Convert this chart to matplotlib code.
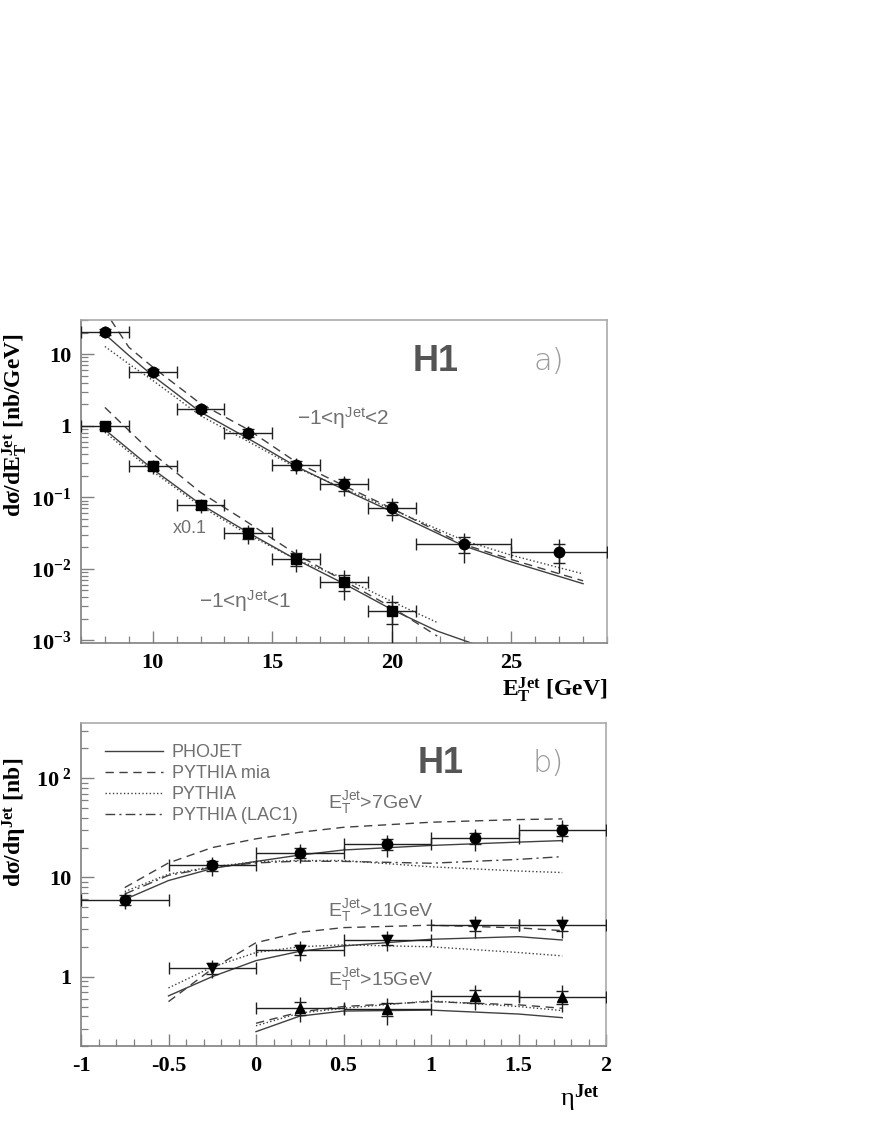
import numpy as np
import matplotlib
matplotlib.use("Agg")
import matplotlib.pyplot as plt
from matplotlib.ticker import FixedLocator, FixedFormatter, LogLocator, NullFormatter, MultipleLocator

plt.rcParams['mathtext.fontset'] = 'custom'
plt.rcParams['mathtext.rm'] = 'Liberation Serif'
plt.rcParams['mathtext.bf'] = 'Liberation Serif:bold'
plt.rcParams['mathtext.it'] = 'Liberation Serif:italic'

# ---------------- data: panel a ----------------
et_c = [8, 10, 12, 14, 16, 18, 20, 23, 27]
et_lo = [7, 9, 11, 13, 15, 17, 19, 21, 25]
et_hi = [9, 11, 13, 15, 17, 19, 21, 25, 29]
a_all = [20.7, 5.6, 1.71, 0.80, 0.28, 0.151, 0.0713, 0.0221, 0.0173]
a_all_stat = [0.10, 0.10, 0.10, 0.12, 0.15, 0.18, 0.20, 0.25, 0.30]
a_all_tot = [0.18, 0.18, 0.20, 0.22, 0.25, 0.32, 0.35, 0.45, 0.50]

et_c2 = [8, 10, 12, 14, 16, 18, 20]
et_lo2 = [7, 9, 11, 13, 15, 17, 19]
et_hi2 = [9, 11, 13, 15, 17, 19, 21]
a_cen = [1.0, 0.273, 0.078, 0.0316, 0.0139, 0.0066, 0.00259]
a_cen_stat = [0.10, 0.12, 0.12, 0.18, 0.20, 0.25, 0.35]
a_cen_tot = [0.18, 0.22, 0.22, 0.30, 0.35, 0.45, 0.65]

# model curves, panel a (upper: -1<eta<2)
ca_x = [8, 9, 10, 12, 14, 16, 18, 20, 23, 25, 28]
ca_phojet = [19.0, 9.6, 5.0, 1.55, 0.66, 0.27, 0.128, 0.063, 0.021, 0.0125, 0.0062]
ca_mia_x = [8.25, 9, 10, 12, 14, 16, 18, 20, 23, 25, 28]
ca_mia = [30.0, 12.5, 6.6, 2.03, 0.88, 0.31, 0.145, 0.070, 0.022, 0.0135, 0.0068]
ca_pythia = [12.8, 7.3, 4.3, 1.38, 0.60, 0.26, 0.132, 0.068, 0.025, 0.0155, 0.0085]
# model curves, panel a (lower: -1<eta<1, x0.1)
cb_x = [8, 10, 12, 14, 16, 18, 20, 21.9, 23.4]
cb_phojet = [0.88, 0.247, 0.080, 0.032, 0.0135, 0.0062, 0.00270, 0.00135, 0.0009]
cb_x2 = [8, 10, 12, 14, 16, 18, 20, 21.9]
cb_mia = [1.8, 0.41, 0.117, 0.044, 0.016, 0.0068, 0.0029, 0.00115]
cb_pythia = [0.81, 0.23, 0.075, 0.030, 0.0135, 0.0074, 0.0035, 0.00178]

# ---------------- data: panel b ----------------
eta_c = [-0.75, -0.25, 0.25, 0.75, 1.25, 1.75]
b7 = [5.94, 13.2, 17.8, 21.6, 24.8, 30.1]
b7_stat = [0.12, 0.12, 0.12, 0.13, 0.13, 0.13]
b7_tot = [0.20, 0.22, 0.22, 0.25, 0.25, 0.25]
eta_c11 = [-0.25, 0.25, 0.75, 1.25, 1.75]
b11 = [1.22, 1.86, 2.35, 3.30, 3.30]
b11_stat = [0.12, 0.12, 0.12, 0.13, 0.13]
b11_tot = [0.20, 0.22, 0.22, 0.25, 0.25]
eta_c15 = [0.25, 0.75, 1.25, 1.75]
b15 = [0.487, 0.469, 0.64, 0.63]
b15_stat = [0.15, 0.15, 0.15, 0.15]
b15_tot = [0.28, 0.30, 0.28, 0.30]

# model curves panel b
m7_x = [-0.75, -0.5, -0.25, 0.0, 0.25, 0.5, 1.0, 1.5, 1.75]
m7_phojet = [6.0, 9.3, 12.3, 14.5, 16.8, 18.9, 21.0, 22.7, 23.5]
m7_mia = [7.9, 14.0, 20.0, 24.5, 28.5, 32.0, 36.0, 38.3, 38.9]
m7_pythia = [7.2, 10.8, 12.8, 14.4, 14.8, 14.8, 12.8, 11.6, 11.2]
m7_lac1 = [6.8, 10.5, 12.6, 14.0, 14.6, 14.5, 13.9, 15.2, 16.2]

m11_x = [-0.5, -0.25, 0.0, 0.25, 0.5, 1.0, 1.5, 1.75]
m11_phojet = [0.64, 1.0, 1.45, 1.80, 2.04, 2.38, 2.53, 2.34]
m11_mia = [0.56, 1.2, 2.2, 2.8, 3.12, 3.30, 3.10, 2.91]
m11_pythia = [0.77, 1.25, 1.75, 2.0, 2.09, 2.0, 1.75, 1.62]

m15_x = [0.0, 0.25, 0.5, 1.0, 1.5, 1.75]
m15_phojet = [0.279, 0.40, 0.45, 0.46, 0.42, 0.386]
m15_mia = [0.339, 0.44, 0.50, 0.56, 0.52, 0.48]
m15_pythia = [0.32, 0.43, 0.48, 0.57, 0.50, 0.455]

eta_lo_all = [-1.0, -0.5, 0.0, 0.5, 1.0, 1.5]
eta_hi_all = [-0.5, 0.0, 0.5, 1.0, 1.5, 2.0]

# ---------------- styling ----------------
GRAY = '#808080'
TXT = '#707070'
LC = '#404040'
SERIF = 'Liberation Serif'
SANS = 'Liberation Sans'

fig = plt.figure(figsize=(8.72, 11.28), dpi=100)
axa = fig.add_axes([81/872, 1-643/1128, 526/872, 323/1128])
axb = fig.add_axes([81/872, 1-1046/1128, 525/872, 323/1128])


def style_axes(ax):
    for s in ax.spines.values():
        s.set_color(GRAY)
        s.set_linewidth(1.2)
    ax.spines['top'].set_color('#aaaaaa')
    ax.spines['right'].set_color('#aaaaaa')
    ax.tick_params(which='both', direction='in', color=GRAY, top=False, right=False)
    ax.tick_params(which='major', length=9, width=1.0, labelsize=16, pad=7)
    ax.tick_params(which='minor', length=5, width=0.9)
    for lab in ax.get_xticklabels() + ax.get_yticklabels():
        lab.set_fontfamily(SERIF)
        lab.set_fontweight('bold')


def draw_points(ax, x, lo, hi, y, stat, tot, marker, ms):
    x = np.array(x); y = np.array(y)
    xerr = [x - np.array(lo), np.array(hi) - x]
    st = np.array(stat); tt = np.array(tot)
    ax.errorbar(x, y, yerr=[y * tt, y * tt], fmt='none', ecolor='#202020', elinewidth=1.0, capsize=0, zorder=4)
    ax.errorbar(x, y, xerr=xerr, yerr=[y * st, y * st], fmt='none', ecolor='#202020', elinewidth=1.0,
                capsize=4, capthick=1.0, zorder=4)
    ax.plot(x, y, linestyle='none', marker=marker, ms=ms, color='black', zorder=5)


# ---------------- panel a ----------------
axa.set_yscale('log')
axa.set_xlim(7, 29)
axa.set_ylim(0.00092, 30)

draw_points(axa, et_c, et_lo, et_hi, a_all, a_all_stat, a_all_tot, 'o', 7.5)
draw_points(axa, et_c2, et_lo2, et_hi2, a_cen, a_cen_stat, a_cen_tot, 's', 7)

axa.plot(ca_x, ca_phojet, '-', color=LC, lw=1.0)
axa.plot(ca_mia_x, ca_mia, '--', color=LC, lw=1.0, dashes=(6, 4))
axa.plot(ca_x, ca_pythia, ':', color=LC, lw=1.0)
axa.plot(cb_x, cb_phojet, '-', color=LC, lw=1.0)
axa.plot(cb_x2, cb_mia, '--', color=LC, lw=1.0, dashes=(6, 4))
axa.plot(cb_x2, cb_pythia, ':', color=LC, lw=1.0)

axa.xaxis.set_major_locator(FixedLocator([10, 15, 20, 25]))
axa.xaxis.set_minor_locator(MultipleLocator(1))
axa.yaxis.set_major_locator(FixedLocator([1e-3, 1e-2, 1e-1, 1, 10]))
axa.yaxis.set_major_formatter(FixedFormatter([r'$\mathbf{10^{-3}}$', r'$\mathbf{10^{-2}}$',
                                              r'$\mathbf{10^{-1}}$', '1', '10']))
axa.yaxis.set_minor_locator(LogLocator(base=10, subs=np.arange(2, 10), numticks=20))
axa.yaxis.set_minor_formatter(NullFormatter())
style_axes(axa)

axa.text(0.675, 0.87, 'H1', transform=axa.transAxes, fontsize=26, fontweight='bold',
         color='#555555', family=SANS, ha='center', va='center')
axa.text(0.89, 0.87, 'a)', transform=axa.transAxes, fontsize=22, color='#9a9a9a',
         family='DejaVu Sans', fontweight='light', ha='center', va='center')
axa.text(0.41, 0.695, '−1<η$^{\\mathregular{Jet}}$<2', transform=axa.transAxes, fontsize=15,
         color=TXT, family=SANS, ha='left', va='center')
axa.text(0.175, 0.355, 'x0.1', transform=axa.transAxes, fontsize=13, color=TXT,
         family=SANS, ha='left', va='center')
axa.text(0.225, 0.13, '−1<η$^{\\mathregular{Jet}}$<1', transform=axa.transAxes, fontsize=15,
         color=TXT, family=SANS, ha='left', va='center')

fig.text(15/872, 1-425/1128, r'$\mathbf{d\sigma/dE_T^{Jet}}$ [nb/GeV]', rotation=90,
         fontsize=17, family=SERIF, fontweight='bold', ha='center', va='center')
fig.text(607/872, 1-690/1128, r'$\mathbf{E_T^{Jet}}$ [GeV]', fontsize=17, family=SERIF,
         fontweight='bold', ha='right', va='center')

# ---------------- panel b ----------------
axb.set_yscale('log')
axb.set_xlim(-1, 2)
axb.set_ylim(0.2, 360)

draw_points(axb, eta_c, eta_lo_all, eta_hi_all, b7, b7_stat, b7_tot, 'o', 7.5)
draw_points(axb, eta_c11, eta_lo_all[1:], eta_hi_all[1:], b11, b11_stat, b11_tot, 'v', 7.5)
draw_points(axb, eta_c15, eta_lo_all[2:], eta_hi_all[2:], b15, b15_stat, b15_tot, '^', 7.5)

l1, = axb.plot(m7_x, m7_phojet, '-', color=LC, lw=1.0, label='PHOJET')
l2, = axb.plot(m7_x, m7_mia, '--', color=LC, lw=1.0, dashes=(6, 4), label='PYTHIA mia')
l3, = axb.plot(m7_x, m7_pythia, ':', color=LC, lw=1.0, label='PYTHIA')
l4, = axb.plot(m7_x, m7_lac1, '-.', color=LC, lw=1.0, dashes=(7, 3, 1.5, 3), label='PYTHIA (LAC1)')
axb.plot(m11_x, m11_phojet, '-', color=LC, lw=1.0)
axb.plot(m11_x, m11_mia, '--', color=LC, lw=1.0, dashes=(6, 4))
axb.plot(m11_x, m11_pythia, ':', color=LC, lw=1.0)
axb.plot(m15_x, m15_phojet, '-', color=LC, lw=1.0)
axb.plot(m15_x, m15_mia, '--', color=LC, lw=1.0, dashes=(6, 4))
axb.plot(m15_x, m15_pythia, ':', color=LC, lw=1.0)

leg = axb.legend(handles=[l1, l2, l3, l4], loc='upper left', bbox_to_anchor=(0.015, 0.985),
                 frameon=False, handlelength=3.2, handletextpad=0.5, labelspacing=0.22,
                 prop={'family': SANS, 'size': 13})
for t in leg.get_texts():
    t.set_color(TXT)

axb.xaxis.set_major_locator(FixedLocator([-1, -0.5, 0, 0.5, 1, 1.5, 2]))
axb.xaxis.set_major_formatter(FixedFormatter(['-1', '-0.5', '0', '0.5', '1', '1.5', '2']))
axb.xaxis.set_minor_locator(MultipleLocator(0.1))
axb.yaxis.set_major_locator(FixedLocator([1, 10, 100]))
axb.yaxis.set_major_formatter(FixedFormatter(['1', '10', r'$\mathbf{10^{\ 2}}$']))
axb.yaxis.set_minor_locator(LogLocator(base=10, subs=np.arange(2, 10), numticks=20))
axb.yaxis.set_minor_formatter(NullFormatter())
style_axes(axb)

axb.text(0.685, 0.875, 'H1', transform=axb.transAxes, fontsize=26, fontweight='bold',
         color='#555555', family=SANS, ha='center', va='center')
axb.text(0.89, 0.875, 'b)', transform=axb.transAxes, fontsize=22, color='#9a9a9a',
         family='DejaVu Sans', fontweight='light', ha='center', va='center')
axb.text(0.47, 0.755, r'$\mathregular{E_T^{Jet}}$>7GeV', transform=axb.transAxes, fontsize=14,
         color=TXT, family=SANS, ha='left', va='center')
axb.text(0.47, 0.42, r'$\mathregular{E_T^{Jet}}$>11GeV', transform=axb.transAxes, fontsize=14,
         color=TXT, family=SANS, ha='left', va='center')
axb.text(0.47, 0.205, r'$\mathregular{E_T^{Jet}}$>15GeV', transform=axb.transAxes, fontsize=14,
         color=TXT, family=SANS, ha='left', va='center')

fig.text(15/872, 1-822/1128, r'$\mathbf{d\sigma/d\eta^{Jet}}$ [nb]', rotation=90,
         fontsize=17, family=SERIF, fontweight='bold', ha='center', va='center')
fig.text(600/872, 1-1098/1128, 'η$^{\\mathbf{Jet}}$', fontsize=19, family=SERIF,
         ha='right', va='center')

fig.savefig('out.png', dpi=100)
